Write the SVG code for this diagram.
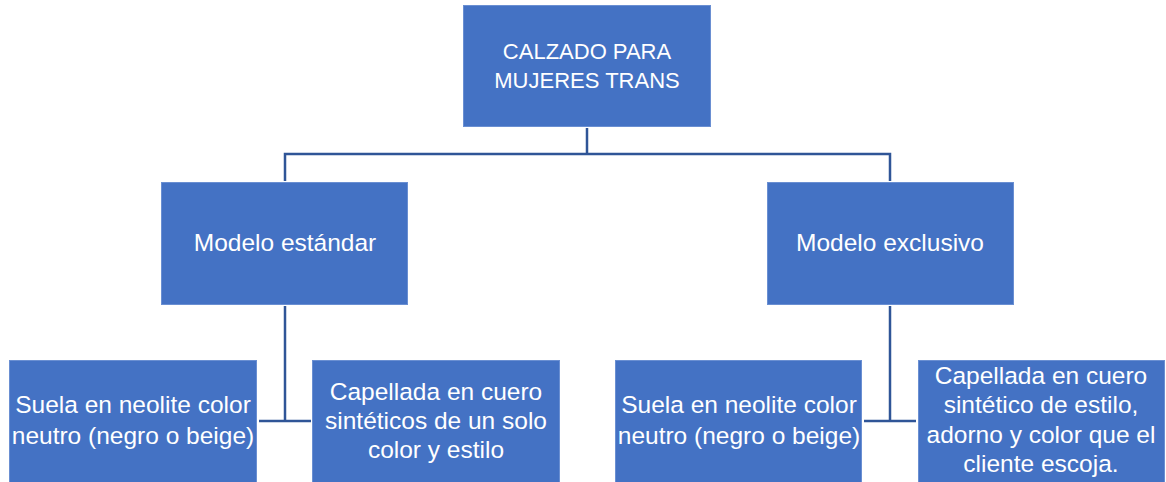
<svg xmlns="http://www.w3.org/2000/svg" width="1166" height="482" viewBox="0 0 1166 482">
<style>
.box{fill:#4472C4;stroke:#6a8fd2;stroke-width:1}
.t{font-family:"Liberation Sans",Arial,sans-serif;font-size:24.5px;fill:#ffffff;text-anchor:middle}
.cap{font-size:22px}
.con{fill:none;stroke:#2F5597;stroke-width:2.5;stroke-linejoin:miter}
</style>
<rect width="1166" height="482" fill="#ffffff"/>
<g id="connectors">
<path class="con" d="M587,128 V154"/>
<path class="con" d="M285,181 V154 H890 V181"/>
<path class="con" d="M285,306 V421"/>
<path class="con" d="M259,421 H311"/>
<path class="con" d="M890,306 V421"/>
<path class="con" d="M864,421 H916"/>
</g>
<g id="n-root">
<rect class="box" x="463.5" y="5.5" width="247" height="121"/>
<text class="t cap" x="587" y="59">CALZADO PARA</text>
<text class="t cap" x="587" y="88">MUJERES TRANS</text>
</g>
<g id="n-estandar">
<rect class="box" x="161.5" y="182.5" width="246" height="122"/>
<text class="t" x="285" y="251">Modelo estándar</text>
</g>
<g id="n-exclusivo">
<rect class="box" x="767.5" y="182.5" width="246" height="122"/>
<text class="t" x="890" y="251">Modelo exclusivo</text>
</g>
<g id="n-suela1">
<rect class="box" x="9.5" y="360.5" width="247" height="122"/>
<text class="t" x="133" y="413">Suela en neolite color</text>
<text class="t" x="133" y="444">neutro (negro o beige)</text>
</g>
<g id="n-capellada1">
<rect class="box" x="312.5" y="360.5" width="247" height="122"/>
<text class="t" x="436" y="400">Capellada en cuero</text>
<text class="t" x="436" y="429">sintéticos de un solo</text>
<text class="t" x="436" y="458">color y estilo</text>
</g>
<g id="n-suela2">
<rect class="box" x="615.5" y="360.5" width="246" height="122"/>
<text class="t" x="739" y="413">Suela en neolite color</text>
<text class="t" x="739" y="444">neutro (negro o beige)</text>
</g>
<g id="n-capellada2">
<rect class="box" x="918.5" y="360.5" width="246" height="122"/>
<text class="t" x="1041" y="384">Capellada en cuero</text>
<text class="t" x="1041" y="413">sintético de estilo,</text>
<text class="t" x="1041" y="443">adorno y color que el</text>
<text class="t" x="1041" y="472">cliente escoja.</text>
</g>
</svg>
